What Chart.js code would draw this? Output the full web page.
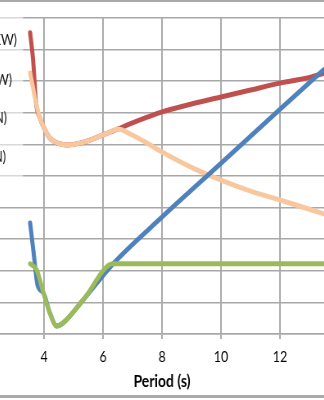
<!DOCTYPE html>
<html>
<head>
<meta charset="utf-8">
<script src="https://cdn.jsdelivr.net/npm/chart.js@4/dist/chart.umd.min.js"></script>
<style>
html,body{margin:0;padding:0;background:#fff;overflow:hidden;width:324px;height:400px;}
#frame{position:absolute;left:0;top:0;width:324px;height:400px;overflow:hidden;background:#fff;}
#wrap{position:absolute;left:-15px;top:0;width:432px;height:396px;transform:scaleX(0.819444);transform-origin:0 0;}
#topb{position:absolute;left:0;top:0;width:324px;height:2px;background:#a9a9a9;}
#botb{position:absolute;left:0;top:395px;width:324px;height:3px;background:#a9a9a9;}
</style>
</head>
<body>
<div id="frame">
  <div id="wrap"><canvas id="c" width="432" height="396"></canvas></div>
  <div id="topb"></div>
  <div id="botb"></div>
</div>
<script>
// ---- data ----
const seriesNames = ["Peak Power (KW)", "Mean Power (KW)", "Peak Force (kN)", "Mean Force (kN)"];
const xTickValues = [4, 6, 8, 10, 12];
const xTitle = "Period (s)";

const redX   = [3.53, 3.63, 3.73, 3.86, 4.03, 4.2, 4.47, 4.78, 5.22, 5.73, 6.24, 6.51, 7.0, 7.5, 8.0, 9.0, 10.0, 11.0, 12.0, 13.0, 13.5];
const redY   = [9.53, 8.67, 7.31, 6.84, 6.46, 6.2, 6.04, 5.98, 6.04, 6.2, 6.39, 6.49, 6.68, 6.86, 7.03, 7.28, 7.5, 7.72, 7.94, 8.12, 8.26];

const peachX = [3.53, 3.63, 3.73, 3.86, 4.03, 4.2, 4.47, 4.78, 5.22, 5.73, 6.24, 6.51, 6.92, 7.42, 8.0, 9.05, 10.0, 10.98, 12.0, 13.49];
const peachY = [8.26, 7.78, 7.31, 6.84, 6.46, 6.2, 6.04, 5.98, 6.04, 6.2, 6.39, 6.49, 6.33, 6.08, 5.76, 5.25, 4.87, 4.53, 4.24, 3.8];

const blueX  = [3.53, 3.65, 3.78, 3.98, 4.2, 4.43, 4.65, 5.33, 6.34, 8.0, 10.0, 12.0, 13.49];
const blueY  = [3.51, 2.55, 1.55, 1.30, 0.66, 0.25, 0.35, 1.08, 2.22, 3.70, 5.40, 7.11, 8.37];

const greenX = [3.53, 3.75, 3.98, 4.2, 4.43, 4.65, 5.33, 6.34, 8.0, 10.0, 12.0, 13.49];
const greenY = [2.22, 2.03, 1.30, 0.66, 0.25, 0.35, 1.08, 2.22, 2.22, 2.22, 2.22, 2.22];

const pts = (xs, ys) => xs.map((x, i) => ({x: x, y: ys[i]}));

const GRID = '#a8a8a8';
const FONT = "Lato, 'Liberation Sans', sans-serif";
const SX = 354 / 432;   // horizontal squeeze of the picture

const legendOverlay = {
  id: 'legendOverlay',
  afterDraw(chart) {
    const ctx = chart.ctx;
    ctx.save();
    ctx.fillStyle = 'rgba(255,255,255,0.55)';
    ctx.fillRect(0, 8, (15 + 23) / SX, 184);
    ctx.fillStyle = '#111';
    ctx.font = "15px " + FONT;
    ctx.textAlign = 'right';
    ctx.textBaseline = 'middle';
    const ends = [17, 12, 7, 6];
    const ys = [40, 80, 118, 157];
    seriesNames.forEach((t, i) => ctx.fillText(t, (15 + ends[i]) / SX, ys[i]));
    ctx.restore();
  }
};

const common = {fill: false, pointRadius: 0, pointHoverRadius: 0, borderWidth: 5, cubicInterpolationMode: 'monotone', borderCapStyle: 'round', borderJoinStyle: 'round'};

new Chart(document.getElementById('c'), {
  type: 'line',
  data: {
    datasets: [
      Object.assign({label: seriesNames[0], data: pts(redX, redY), borderColor: '#C0504D', order: 4}, common),
      Object.assign({label: seriesNames[1], data: pts(peachX, peachY), borderColor: '#F8C79E', order: 3}, common),
      Object.assign({label: seriesNames[2], data: pts(blueX, blueY), borderColor: '#4F81BD', order: 2}, common),
      Object.assign({label: seriesNames[3], data: pts(greenX, greenY), borderColor: '#9BBB59', order: 1}, common)
    ]
  },
  options: {
    responsive: false,
    devicePixelRatio: 1,
    animation: false,
    layout: {autoPadding: false, padding: {top: 18, left: 0, right: 0, bottom: 0}},
    plugins: {legend: {display: false}, tooltip: {enabled: false}},
    scales: {
      x: {
        type: 'linear', min: 2, max: 14,
        afterFit(s) { s.height = 62; s.paddingLeft = 0; s.paddingRight = 0; },
        afterBuildTicks(s) { s.ticks = [2].concat(xTickValues, [14]).map(v => ({value: v})); },
        ticks: {
          color: '#000', padding: 9, maxRotation: 0, autoSkip: false,
          font: {family: FONT, size: 15},
          callback: v => xTickValues.includes(v) ? String(v) : ''
        },
        grid: {color: GRID, lineWidth: 1.9, tickLength: 5, drawTicks: true},
        border: {color: GRID, width: 1.6},
        title: {display: true, text: xTitle, color: '#000', font: {family: FONT, size: 17, weight: 'bold'}, padding: {top: 0, bottom: 4}}
      },
      y: {
        type: 'linear', min: 0, max: 10,
        afterFit(s) { s.width = 0; },
        ticks: {display: false, stepSize: 1},
        grid: {color: GRID, lineWidth: 1.6, drawTicks: false},
        border: {display: false}
      }
    }
  },
  plugins: [legendOverlay]
});
</script>
</body>
</html>
